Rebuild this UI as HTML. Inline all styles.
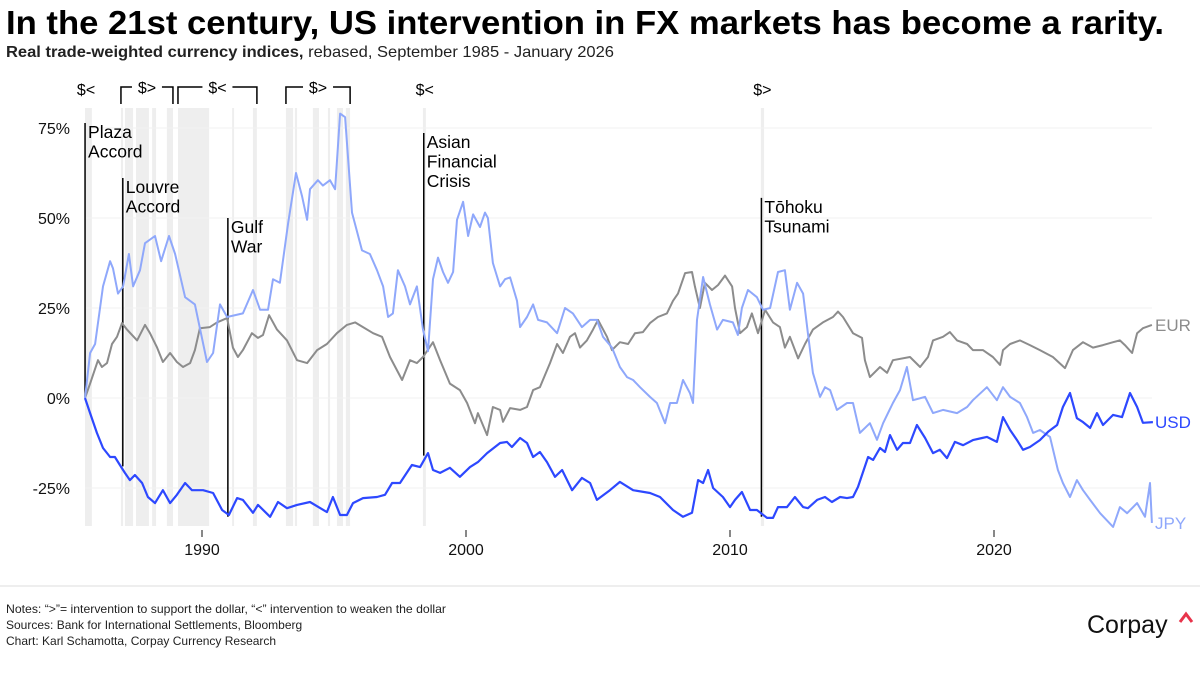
<!DOCTYPE html>
<html><head><meta charset="utf-8">
<style>
body{margin:0;background:#fff;width:1200px;height:670px;overflow:hidden;font-family:"Liberation Sans",sans-serif;}
svg text{font-family:"Liberation Sans",sans-serif;}
</style></head>
<body>
<svg id="chart" width="1200" height="670" xmlns="http://www.w3.org/2000/svg">
<text x="6" y="34" font-size="33" font-weight="bold" fill="#000" textLength="1158" lengthAdjust="spacingAndGlyphs">In the 21st century, US intervention in FX markets has become a rarity.</text>
<text x="6" y="57" font-size="16" fill="#222" textLength="608" lengthAdjust="spacingAndGlyphs"><tspan font-weight="bold">Real trade-weighted currency indices,</tspan> rebased, September 1985 - January 2026</text>
<g id="shade"></g>
<g id="grid"></g>
<g id="events"></g>
<g id="series"></g>
<g id="axes"></g>
<g id="brackets" font-size="16" fill="#000"></g>
<line x1="0" y1="586" x2="1200" y2="586" stroke="#ddd" stroke-width="1"/>
<text x="6" y="613" font-size="12" fill="#222" textLength="440" lengthAdjust="spacingAndGlyphs">Notes: “&gt;”= intervention to support the dollar, “&lt;” intervention to weaken the dollar</text>
<text x="6" y="629" font-size="12" fill="#222">Sources: Bank for International Settlements, Bloomberg</text>
<text x="6" y="645" font-size="12" fill="#222">Chart: Karl Schamotta, Corpay Currency Research</text>
<text x="1087" y="633" font-size="25" fill="#111">Corpay</text>
<path d="M1180 622 L1186 614 L1192 622" fill="none" stroke="#e8344b" stroke-width="3"/>
</svg>
<script>
const NS="http://www.w3.org/2000/svg";
const yTicks=[75,50,25,0,-25];
const yTickLabels=["75%","50%","25%","0%","-25%"];
const xTicks=[1990,2000,2010,2020];
const shadeStarts=[1985.57,1986.93,1987.08,1987.50,1988.11,1988.67,1989.09,1991.14,1991.93,1993.18,1993.52,1994.20,1994.77,1995.11,1995.45,1998.37,2011.17];
const shadeEnds=[1985.83,1987.01,1987.39,1987.99,1988.26,1988.90,1990.27,1991.21,1992.08,1993.45,1993.60,1994.43,1994.85,1995.34,1995.61,1998.48,2011.29];
const eventYears=[1985.57,1987.00,1990.98,1998.40,2011.19];
const eventLabels=[["Plaza","Accord"],["Louvre","Accord"],["Gulf","War"],["Asian","Financial","Crisis"],["Tōhoku","Tsunami"]];
const eventTop=[76.4,61.1,50,73.6,55.6];
const eventBottom=[0,-19,-33,-16,-33];

const usdYears=[1985.57,1985.76,1986.02,1986.25,1986.52,1986.70,1986.89,1987.08,1987.27,1987.46,1987.73,1987.95,1988.22,1988.52,1988.79,1989.05,1989.36,1989.62,1990.04,1990.42,1990.76,1991.02,1991.33,1991.55,1991.93,1992.12,1992.58,1992.88,1993.22,1993.60,1994.09,1994.73,1994.96,1995.23,1995.49,1995.72,1996.10,1996.63,1996.93,1997.20,1997.50,1997.95,1998.26,1998.56,1998.75,1999.02,1999.39,1999.77,2000.15,2000.45,2000.80,2001.29,2001.55,2001.74,2002.05,2002.31,2002.54,2002.80,2003.07,2003.37,2003.64,2004.02,2004.39,2004.70,2004.96,2005.45,2005.83,2006.33,2006.97,2007.35,2007.84,2008.22,2008.56,2008.79,2008.98,2009.17,2009.36,2009.73,2010.00,2010.19,2010.45,2010.76,2011.02,2011.40,2011.63,2011.82,2012.16,2012.46,2012.77,2012.95,2013.30,2013.60,2013.86,2014.17,2014.43,2014.66,2014.85,2015.23,2015.42,2015.68,2015.87,2016.06,2016.33,2016.55,2016.82,2017.08,2017.39,2017.69,2017.95,2018.22,2018.52,2018.83,2019.20,2019.55,2019.73,2020.11,2020.34,2020.61,2020.87,2021.10,2021.36,2021.74,2022.05,2022.39,2022.61,2022.88,2023.14,2023.37,2023.64,2023.90,2024.13,2024.51,2024.85,2025.15,2025.42,2025.64,2026.02];
const usdValues=[0,-4.2,-9.7,-13.9,-16.4,-16.4,-18.6,-20.8,-22.8,-21.4,-23.6,-27.5,-29.2,-25.6,-29.2,-26.9,-23.6,-25.6,-25.6,-26.4,-31.1,-32.5,-27.8,-28.3,-31.9,-29.7,-33,-28.9,-30.6,-29.7,-28.9,-31.7,-27.5,-32.5,-32.5,-29.2,-27.8,-27.5,-26.9,-23.6,-23.6,-18.6,-19.2,-15.3,-20,-20.8,-19.4,-21.9,-19.2,-17.8,-15.3,-12.5,-12.2,-13.6,-11.1,-12.5,-16.4,-15,-17.8,-21.9,-20,-25.6,-22.2,-23.6,-28.3,-25.6,-23.3,-25.6,-26.4,-27.5,-31.1,-33,-31.9,-22.8,-23.6,-20,-25,-27.5,-30.3,-28.3,-26.1,-31.1,-31.1,-33.3,-33.3,-30.3,-30.3,-27.5,-30.3,-30.6,-28.3,-27.5,-28.9,-27.5,-27.8,-27.5,-24.7,-16.4,-17.2,-13.9,-15,-10.3,-14.4,-12.5,-12.5,-7.5,-11.1,-15.3,-14.4,-16.7,-12.2,-13.1,-11.7,-11.1,-10.8,-12.2,-5.3,-8.9,-11.7,-14.4,-13.6,-11.7,-9.4,-7.5,-2.5,1.4,-5.6,-6.7,-8.3,-4.2,-7.5,-4.7,-5.3,1.4,-2.5,-6.9,-6.7];

const eurYears=[1985.57,1985.76,1986.06,1986.21,1986.40,1986.59,1986.78,1986.97,1987.16,1987.54,1987.84,1988.03,1988.30,1988.52,1988.79,1989.05,1989.28,1989.55,1989.73,1989.92,1990.30,1990.57,1990.95,1991.17,1991.36,1991.55,1991.89,1992.12,1992.31,1992.54,1992.84,1993.22,1993.60,1993.98,1994.36,1994.73,1995.11,1995.49,1995.80,1996.10,1996.48,1996.82,1997.12,1997.58,1997.88,1998.14,1998.37,1998.75,1999.02,1999.39,1999.77,2000.04,2000.34,2000.45,2000.80,2001.02,2001.29,2001.40,2001.67,2002.05,2002.31,2002.54,2002.80,2003.18,2003.45,2003.67,2003.94,2004.13,2004.32,2004.58,2004.81,2005.00,2005.34,2005.53,2005.83,2006.14,2006.40,2006.70,2006.97,2007.27,2007.61,2007.84,2008.03,2008.30,2008.56,2008.67,2008.86,2009.05,2009.32,2009.55,2009.81,2010.08,2010.19,2010.38,2010.64,2010.83,2011.06,2011.33,2011.63,2011.89,2012.08,2012.27,2012.58,2012.84,2013.14,2013.52,2013.90,2014.09,2014.28,2014.66,2015.00,2015.11,2015.30,2015.68,2015.95,2016.17,2016.82,2017.20,2017.50,2017.69,2018.07,2018.33,2018.60,2018.98,2019.20,2019.58,2019.96,2020.23,2020.34,2020.61,2020.98,2021.36,2021.74,2022.23,2022.69,2022.99,2023.37,2023.75,2024.13,2024.51,2024.77,2024.96,2025.23,2025.42,2025.64,2025.98];
const eurValues=[0,4,10.5,8.6,9.7,15,17,20.8,19,16,20.3,18,14,10,12.5,10,8.6,9.7,13.3,19.4,19.7,21,22.2,14,11.4,13.3,18,16.7,17.5,23,19,16,10.5,9.7,13.3,15,18,20.3,21,19.7,18,17,11.4,5,10.5,9.7,11.4,15.5,10.5,4,2.2,-1.4,-7,-4.2,-10.3,-2.5,-3.3,-6.6,-2.8,-3.3,-2.5,2.2,3,9.7,15,12.5,17,18,14,16,19,21.7,17,13.3,15.5,15,18,18.3,20.8,22.5,23.5,27,29,34.7,35,31,25,32,30,31.4,34,31,25,18,19.7,23.5,18,24.5,21,19.7,14,17,11,15,19,21,22.5,24,22.5,18,16.7,10.5,5.8,8.6,7,10.5,11.4,8.6,11.4,16,17,18.3,16,15,13.3,13.3,11.4,9.2,13.3,15,16,14.7,13.3,11.4,8.3,13.3,15.5,14,14.7,15.5,16,14.7,12.5,18,19.4,20.3];

const jpyYears=[1985.57,1985.76,1985.95,1986.25,1986.52,1986.63,1986.82,1987.01,1987.23,1987.39,1987.65,1987.84,1988.22,1988.45,1988.75,1988.98,1989.36,1989.73,1990.19,1990.42,1990.68,1990.95,1991.55,1991.93,1992.20,1992.50,1992.69,1992.95,1993.26,1993.56,1993.79,1993.98,1994.09,1994.39,1994.58,1994.85,1995.04,1995.23,1995.42,1995.68,1996.06,1996.36,1996.63,1996.86,1997.05,1997.23,1997.42,1997.69,1997.88,1998.14,1998.37,1998.56,1998.75,1998.94,1999.13,1999.32,1999.51,1999.66,1999.89,2000.08,2000.27,2000.53,2000.72,2000.83,2001.02,2001.29,2001.48,2001.67,2001.93,2002.05,2002.31,2002.54,2002.73,2003.07,2003.45,2003.75,2004.05,2004.39,2004.70,2004.96,2005.19,2005.53,2005.83,2006.10,2006.33,2006.59,2006.97,2007.23,2007.54,2007.73,2007.99,2008.22,2008.48,2008.60,2008.75,2008.98,2009.24,2009.51,2009.73,2010.11,2010.30,2010.45,2010.68,2011.02,2011.25,2011.52,2011.82,2012.08,2012.27,2012.54,2012.77,2012.95,2013.14,2013.41,2013.60,2013.79,2014.05,2014.43,2014.66,2014.92,2015.30,2015.57,2015.80,2016.17,2016.44,2016.70,2016.93,2017.39,2017.69,2018.07,2018.60,2018.98,2019.20,2019.73,2020.11,2020.34,2020.61,2020.98,2021.25,2021.48,2021.74,2022.12,2022.42,2022.61,2022.88,2023.14,2023.37,2023.64,2024.02,2024.51,2024.77,2025.04,2025.42,2025.72,2025.91,2025.98];
const jpyValues=[0,12.5,15,31,38,36,29,31,40,31,35.5,43,45,38,45,40,28,26,10,12.5,26,22.5,23.5,30,24.5,24.5,33,32,48.5,62.5,56,49.5,58,60.5,59,60.5,58,79,78,51.5,41,40,35.5,31,22.5,23.5,35.5,31,26,31,19,13,33,39,35,32,35,49.5,54.5,45,51,47.5,51.5,50,37.5,31,33,33.5,27,19.7,22.5,26,21.7,21,18,25,23.5,19.7,21.7,21.7,17,14,8.6,5.8,5,3,0.3,-1.4,-7,-1.4,-1.4,5,1.4,-1.4,21.7,33.6,26,19,21.7,21,17.5,25,30,28,24.5,25,35,35.5,24.5,32,29,18,7,0.3,3,2.2,-3.3,-1.4,-1.4,-9.7,-7,-11.6,-7,-1.4,2.2,8.6,-0.6,0.3,-4.2,-3.3,-4.2,-2.5,-0.6,3,-0.6,3,0.3,-1.4,-5.3,-9.7,-8.9,-10.8,-20,-23.6,-27.5,-22.8,-25.6,-28.3,-32,-35.8,-30.3,-32,-29.2,-33,-23.6,-34.7];

const X0=202, PX_PER_YEAR=26.4, Y0=398, PX_PER_PCT=3.6, PLOT_TOP=108, PLOT_BOTTOM=526, PLOT_LEFT=85, PLOT_RIGHT=1152;
function xs(y){return X0+(y-1990)*PX_PER_YEAR;}
function ys(v){return Y0-v*PX_PER_PCT;}
function mk(tag,attrs,parent){const e=document.createElementNS(NS,tag);for(const k in attrs)e.setAttribute(k,attrs[k]);parent.appendChild(e);return e;}

const shade=document.getElementById('shade');
for(let i=0;i<shadeStarts.length;i++){
  const r=mk('rect',{x:xs(shadeStarts[i]),y:PLOT_TOP,width:Math.max(2,xs(shadeEnds[i])-xs(shadeStarts[i])),height:PLOT_BOTTOM-PLOT_TOP,fill:'#eeeeee'},shade);
  
  
}
const grid=document.getElementById('grid');
const axes=document.getElementById('axes');
for(let i=0;i<yTicks.length;i++){
  const l=mk('line',{x1:PLOT_LEFT,x2:PLOT_RIGHT,y1:ys(yTicks[i]),y2:ys(yTicks[i]),stroke:'#f2f2f2','stroke-width':1},grid);
  
  
  const t=mk('text',{x:70,y:ys(yTicks[i])+6,'text-anchor':'end','font-size':16,fill:'#111'},axes);
  t.textContent=yTickLabels[i];
  
  
}
for(const yr of xTicks){
  const l=mk('line',{x1:xs(yr),x2:xs(yr),y1:530,y2:537,stroke:'#111','stroke-width':1},axes);
  
  
  const t=mk('text',{x:xs(yr),y:555,'text-anchor':'middle','font-size':16,fill:'#111'},axes);
  t.textContent=yr;
  
  
}
const ev=document.getElementById('events');
for(let i=0;i<eventYears.length;i++){
  const x=xs(eventYears[i]);
  const l=mk('line',{x1:x,x2:x,y1:ys(eventTop[i]),y2:ys(eventBottom[i]),stroke:'#000','stroke-width':1.5},ev);
  
  
  eventLabels[i].forEach((s,j)=>{
    const t=mk('text',{x:x+3,y:ys(eventTop[i])+15+j*19.5,'font-size':17.5,fill:'#000'},ev);
    t.textContent=s;
    
    
  });
}
const ser=document.getElementById('series');
function drawLine(years,vals,color,w,name){
  let d='';
  for(let i=0;i<years.length;i++)d+=(i?'L':'M')+xs(years[i]).toFixed(1)+' '+ys(vals[i]).toFixed(1);
  const p=mk('path',{d:d,fill:'none',stroke:color,'stroke-width':w,'stroke-linejoin':'round'},ser);
  
  
}
drawLine(eurYears,eurValues,'#8c8c8c',2,'eur-line');
drawLine(jpyYears,jpyValues,'#8fa8fb',2,'jpy-line');
drawLine(usdYears,usdValues,'#2d48ff',2.2,'usd-line');
const labels=[["EUR",eurValues,'#8c8c8c'],["USD",usdValues,'#2d48ff'],["JPY",jpyValues,'#8fa8fb']];
for(const [n,v,c] of labels){
  const t=mk('text',{x:1155,y:ys(v[v.length-1])+6,'font-size':17,fill:c},ser);
  t.textContent=n;
  
  
}
const br=document.getElementById('brackets');
const bracketStarts=[1986.93,1989.09,1993.18];
const bracketEnds=[1988.90,1992.08,1995.61];
const bracketTexts=["$>","$<","$>"];
for(let i=0;i<bracketStarts.length;i++){
  const a=xs(bracketStarts[i]),b=xs(bracketEnds[i]),m=(a+b)/2;
  const p=mk('path',{d:`M${a} 104 V87 H${m-15} M${m+15} 87 H${b} V104`,fill:'none',stroke:'#000','stroke-width':1.5},br);
  
  
  const t=mk('text',{x:m,y:93,'text-anchor':'middle'},br);
  t.textContent=bracketTexts[i];
  
  
}
const singleYears=[1985.57,1998.40,2011.19];
const singleTexts=["$<","$<","$>"];
for(let i=0;i<singleYears.length;i++){
  const t=mk('text',{x:xs(singleYears[i])+1,y:95,'text-anchor':'middle'},br);
  t.textContent=singleTexts[i];
  
  
}
</script>
</body></html>
